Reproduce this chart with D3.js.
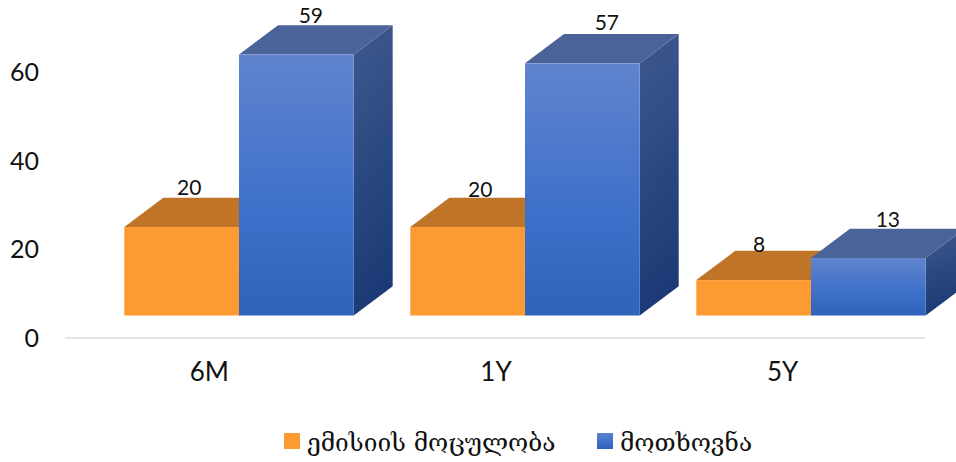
<!DOCTYPE html>
<html>
<head>
<meta charset="utf-8">
<script src="https://cdn.jsdelivr.net/npm/d3@7"></script>
<style>
  html, body { margin: 0; padding: 0; background: #fff; overflow: hidden; }
  text { fill: #111; font-family: Lato, "DejaVu Sans", sans-serif; }
  .axis path, .axis line { display: none; }
</style>
</head>
<body>
<div id="chart"></div>
<script>
const categories = ["6M", "1Y", "5Y"];
const seriesNames = ["ემისიის მოცულობა", "მოთხოვნა"];
const emissionValues = [20, 20, 8];
const demandValues = [59, 57, 13];
const yTicks = [0, 20, 40, 60];

const width = 956;
const height = 462;

// 3D look: the walls are lifted off the axis floor and pushed back by the depth
const floorLift = 22.5;
const depthX = 39;
const depthY = 29.3;

const svg = d3.select("#chart").append("svg")
    .attr("width", width)
    .attr("height", height);

const defs = svg.append("defs");

function addGradient(id, stops, x2, y2) {
    const grad = defs.append("linearGradient")
        .attr("id", id)
        .attr("x1", 0).attr("y1", 0)
        .attr("x2", x2).attr("y2", y2);
    stops.forEach(s => grad.append("stop").attr("offset", s[0]).attr("stop-color", s[1]));
}

addGradient("blueFront", [[0, "#6084ce"], [0.6, "#3d70ca"], [1, "#2f62b9"]], 0, 1);
addGradient("blueSide", [[0, "#40598f"], [0.6, "#28477f"], [1, "#1c3a75"]], 0.15, 1);
addGradient("legendBlue", [[0, "#5c80cc"], [0.6, "#3d70ca"], [1, "#2f62b9"]], 0, 1);

const y = d3.scaleLinear().domain([0, 60]).range([338, 72.6]);

// axis labels sit on the floor, the bars are shifted right by the perspective
const xAxisScale = d3.scaleBand().domain(categories).range([65, 925]);
const xBars = d3.scaleBand().domain(categories).range([96, 954]);
const xSeries = d3.scaleBand().domain([0, 1]).range([-114.7, 114.7]);

const poly = d3.line();

// Axis line
svg.append("line")
    .attr("x1", 65).attr("x2", 925)
    .attr("y1", y(0)).attr("y2", y(0))
    .attr("stroke", "#e3e5ea")
    .attr("stroke-width", 2);

// Y axis
svg.append("g")
    .attr("class", "axis")
    .attr("transform", "translate(39,0)")
    .call(d3.axisLeft(y).tickValues(yTicks).tickSize(0).tickPadding(0))
    .selectAll("text")
    .style("font-size", "25px")
    .style("font-family", "Lato");

// X axis
svg.append("g")
    .attr("class", "axis")
    .attr("transform", "translate(1,363)")
    .call(d3.axisBottom(xAxisScale).tickSize(0).tickPadding(0))
    .selectAll("text")
    .style("font-size", "26px")
    .style("font-family", "Lato");

const seriesStyles = [
    { front: "#fd9a32", side: "#bf7427", top: "#bf7427", values: emissionValues },
    { front: "url(#blueFront)", side: "url(#blueSide)", top: "#4a6399", values: demandValues }
];

seriesStyles.forEach((s, si) => {
    const g = svg.append("g");
    const rows = categories.map((c, i) => {
        const x0 = xBars(c) + xBars.bandwidth() / 2 + xSeries(si);
        return { x0, x1: x0 + xSeries.bandwidth(), y0: y(s.values[i]) - floorLift, y1: y(0) - floorLift };
    });

    // side wall
    g.selectAll(".side").data(rows).enter().append("path")
        .attr("fill", s.side)
        .attr("d", d => poly([[d.x1, d.y0], [d.x1 + depthX, d.y0 - depthY], [d.x1 + depthX, d.y1 - depthY], [d.x1, d.y1]]) + "Z");

    // top face
    g.selectAll(".top").data(rows).enter().append("path")
        .attr("fill", s.top)
        .attr("d", d => poly([[d.x0, d.y0], [d.x0 + depthX, d.y0 - depthY], [d.x1 + depthX, d.y0 - depthY], [d.x1, d.y0]]) + "Z");

    // front wall
    g.selectAll(".front").data(rows).enter().append("rect")
        .attr("x", d => d.x0)
        .attr("y", d => d.y0)
        .attr("width", d => d.x1 - d.x0)
        .attr("height", d => d.y1 - d.y0)
        .attr("fill", s.front);
});

// Data labels, moved by hand in the original so each one has its own nudge
const labelNudge = [
    [[-12, 0], [-7, 2], [-14, 4]],
    [[-5, 1], [5, -1], [0, 1]]
];

seriesStyles.forEach((s, si) => {
    svg.append("g").selectAll("text")
        .data(s.values)
        .enter().append("text")
        .attr("x", (d, i) => xBars(categories[i]) + xBars.bandwidth() / 2 + xSeries(si) + xSeries.bandwidth() / 2 + depthX / 2 + labelNudge[si][i][0])
        .attr("y", (d, i) => y(d) - floorLift - depthY + labelNudge[si][i][1] - 3)
        .attr("text-anchor", "middle")
        .style("font-size", "21px")
        .style("font-family", "Lato")
        .text(d => d);
});

// Legend
const legend = [
    { name: seriesNames[0], x: 284, fill: "#fd9a32" },
    { name: seriesNames[1], x: 597, fill: "url(#legendBlue)" }
];

legend.forEach(l => {
    svg.append("rect")
        .attr("x", l.x).attr("y", 433)
        .attr("width", 16).attr("height", 16)
        .attr("fill", l.fill);
    svg.append("text")
        .attr("x", l.x + 23)
        .attr("y", 451)
        .style("font-size", "24.5px")
        .style("font-family", "'DejaVu Serif', 'DejaVu Sans'")
        .text(l.name);
});
</script>
</body>
</html>
